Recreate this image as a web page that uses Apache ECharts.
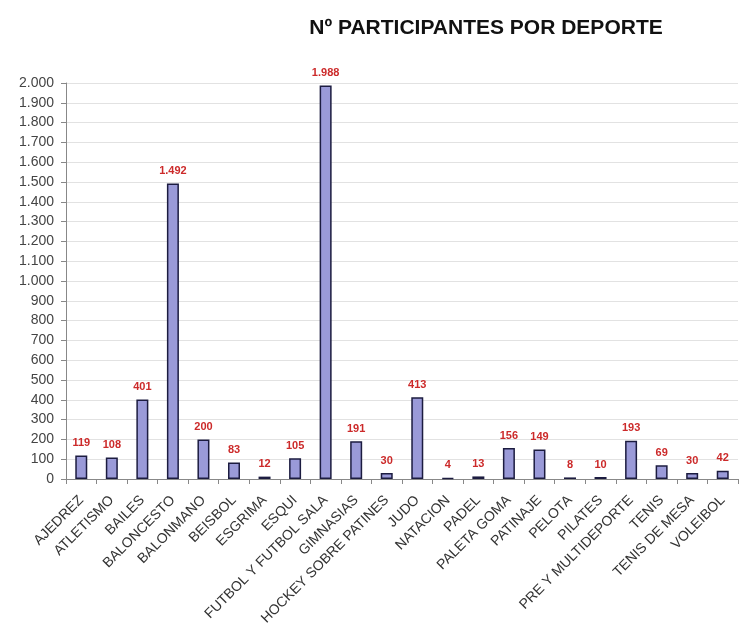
<!DOCTYPE html>
<html>
<head>
<meta charset="utf-8">
<script src="https://cdn.jsdelivr.net/npm/echarts@6/dist/echarts.min.js"></script>
<style>
  html, body { margin: 0; padding: 0; background: #fff; }
  #chart { width: 755px; height: 632px; }
</style>
</head>
<body>
<div id="chart"></div>
<script>
// deportes y participantes
const deportes = ['AJEDREZ', 'ATLETISMO', 'BAILES', 'BALONCESTO', 'BALONMANO', 'BEISBOL', 'ESGRIMA', 'ESQUI',
  'FUTBOL Y FUTBOL SALA', 'GIMNASIAS', 'HOCKEY SOBRE PATINES', 'JUDO', 'NATACION', 'PADEL', 'PALETA GOMA',
  'PATINAJE', 'PELOTA', 'PILATES', 'PRE Y MULTIDEPORTE', 'TENIS', 'TENIS DE MESA', 'VOLEIBOL'];
const participantes = [119, 108, 401, 1492, 200, 83, 12, 105, 1988, 191, 30, 413, 4, 13, 156, 149, 8, 10, 193, 69, 30, 42];

// formato con punto de miles
const fmt = (v) => String(v).replace(/\B(?=(\d{3})+(?!\d))/g, '.');

const chart = echarts.init(document.getElementById('chart'));
const option = {
  animation: false,
  title: {
    text: 'Nº PARTICIPANTES POR DEPORTE',
    left: 481,
    textAlign: 'center',
    top: 13,
    textStyle: { fontFamily: 'Liberation Sans', fontSize: 21, fontWeight: 'bold', color: '#111' }
  },
  grid: { left: 66, right: 17, top: 83, bottom: 153 },
  xAxis: {
    type: 'category',
    data: deportes,
    axisLine: { lineStyle: { color: '#888' } },
    axisTick: { show: true, length: 5, lineStyle: { color: '#888' } },
    axisLabel: {
      interval: 0,
      rotate: 45,
      margin: 19,
      fontFamily: 'Liberation Sans',
      fontSize: 14,
      color: '#333'
    }
  },
  yAxis: {
    type: 'value',
    min: 0,
    max: 2000,
    interval: 100,
    axisLine: { show: true, lineStyle: { color: '#888' } },
    axisTick: { show: true, length: 5, lineStyle: { color: '#888' } },
    axisLabel: {
      formatter: fmt,
      fontFamily: 'Liberation Sans',
      fontSize: 14,
      color: '#444',
      margin: 12
    },
    splitLine: { lineStyle: { color: '#e2e2e2' } }
  },
  series: [{
    type: 'bar',
    data: participantes,
    barWidth: 12,
    itemStyle: { color: '#9a9ad8', borderColor: '#1c1c40', borderWidth: 1.5 },
    label: {
      show: true,
      position: 'top',
      distance: 7,
      formatter: (p) => fmt(p.value),
      fontFamily: 'Liberation Sans',
      fontSize: 11,
      fontWeight: 'bold',
      color: '#cc2a2a'
    }
  }]
};
chart.setOption(option);
</script>
</body>
</html>
